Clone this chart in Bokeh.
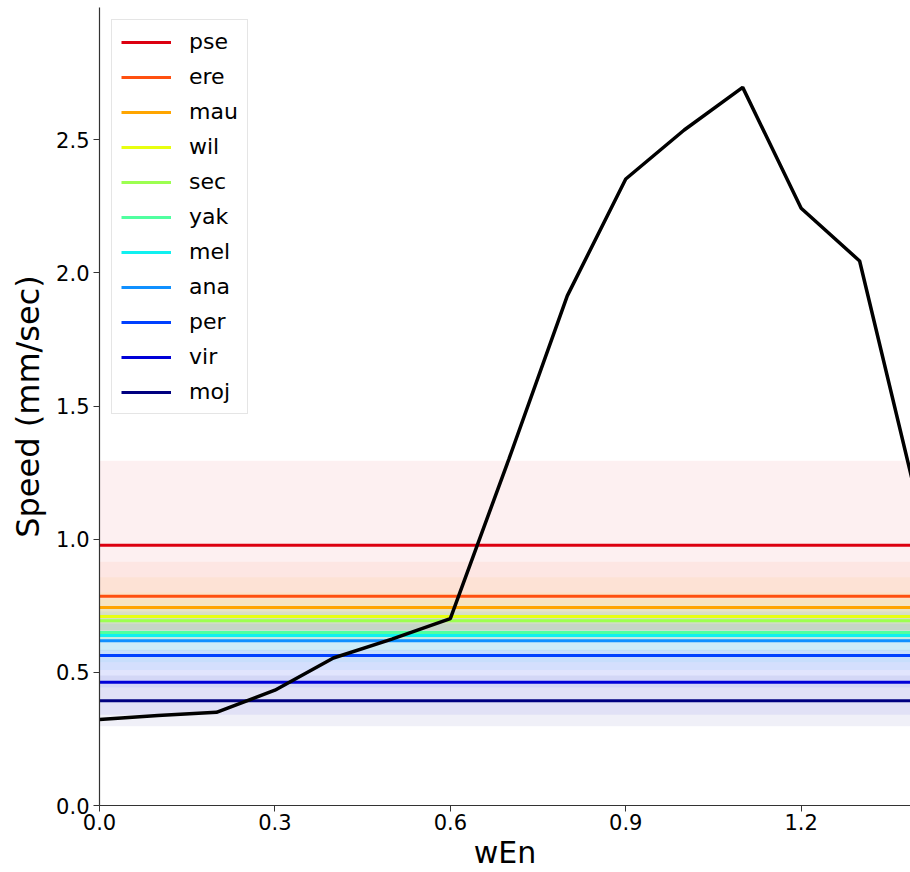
from bokeh.plotting import figure
from bokeh.models import Range1d, FixedTicker, PrintfTickFormatter, Legend, LegendItem
from bokeh.embed import file_html
from bokeh.resources import INLINE

species = ["pse", "ere", "mau", "wil", "sec", "yak", "mel", "ana", "per", "vir", "moj"]
species_mean = [0.977, 0.786, 0.744, 0.710, 0.694, 0.650, 0.638, 0.619, 0.563, 0.463, 0.393]
species_sd = [0.318, 0.129, 0.113, 0.090, 0.080, 0.070, 0.100, 0.110, 0.120, 0.122, 0.095]
species_colors = ["#dc0010", "#ff5010", "#ffa500", "#e8ff10", "#9cff50", "#50ffa0",
                  "#10f0f0", "#1090ff", "#0040ff", "#0000d8", "#000080"]

wEn = [0.0, 0.1, 0.2, 0.3, 0.4, 0.5, 0.6, 0.7, 0.8, 0.9, 1.0, 1.1, 1.2, 1.3, 1.4]
speed = [0.323, 0.338, 0.350, 0.433, 0.554, 0.625, 0.702, 1.30, 1.914, 2.353, 2.537, 2.697, 2.243, 2.045, 1.13]

x_ticks = [0.0, 0.3, 0.6, 0.9, 1.2]
y_ticks = [0.0, 0.5, 1.0, 1.5, 2.0, 2.5]

FONT = "DejaVu Sans"

p = figure(width=910, height=872, output_backend="svg", toolbar_location=None,
           x_range=Range1d(0, 1.387), y_range=Range1d(0, 2.997),
           min_border_left=99, min_border_right=0, min_border_top=7, min_border_bottom=66)
p.outline_line_color = None
p.xgrid.visible = False
p.ygrid.visible = False
p.background_fill_color = "white"
p.border_fill_color = "white"

items = []
for name, m, s, c in zip(species, species_mean, species_sd, species_colors):
    p.varea(x=[wEn[0], wEn[-1]], y1=[m - s, m - s], y2=[m + s, m + s],
            fill_color=c, fill_alpha=0.06)
for name, m, s, c in zip(species, species_mean, species_sd, species_colors):
    r = p.line(x=[wEn[0], wEn[-1]], y=[m, m], line_color=c, line_width=3)
    items.append(LegendItem(label=name, renderers=[r]))

p.line(wEn, speed, line_color="black", line_width=3.5)

legend = Legend(items=items, location="top_left")
legend.label_text_font = FONT
legend.label_text_font_size = "22px"
legend.label_text_color = "black"
legend.glyph_width = 50
legend.glyph_height = 20
legend.label_height = 20
legend.spacing = 10
legend.padding = 9
legend.margin = 12
legend.label_standoff = 18
legend.border_line_color = "#cccccc"
legend.border_line_width = 1
legend.background_fill_alpha = 0.85
p.add_layout(legend)

for ax in (p.xaxis[0], p.yaxis[0]):
    ax.axis_line_color = "#333333"
    ax.axis_line_width = 1.2
    ax.major_tick_line_color = "#333333"
    ax.major_tick_out = 6
    ax.major_tick_in = 0
    ax.minor_tick_out = 0
    ax.minor_tick_in = 0
    ax.major_label_text_font = FONT
    ax.major_label_text_font_size = "21px"
    ax.major_label_text_color = "black"
    ax.axis_label_text_font = FONT
    ax.axis_label_text_font_style = "normal"
    ax.axis_label_text_color = "black"
    ax.formatter = PrintfTickFormatter(format="%.1f")

p.xaxis[0].ticker = FixedTicker(ticks=x_ticks)
p.yaxis[0].ticker = FixedTicker(ticks=y_ticks)
p.xaxis[0].axis_label = "wEn"
p.yaxis[0].axis_label = "Speed (mm/sec)"
p.xaxis[0].axis_label_text_font_size = "30px"
p.yaxis[0].axis_label_text_font_size = "32px"
p.xaxis[0].major_label_standoff = 2
p.yaxis[0].major_label_standoff = 4
p.xaxis[0].axis_label_standoff = 2
p.yaxis[0].axis_label_standoff = 6

open("out.html", "w").write(file_html(p, INLINE))
